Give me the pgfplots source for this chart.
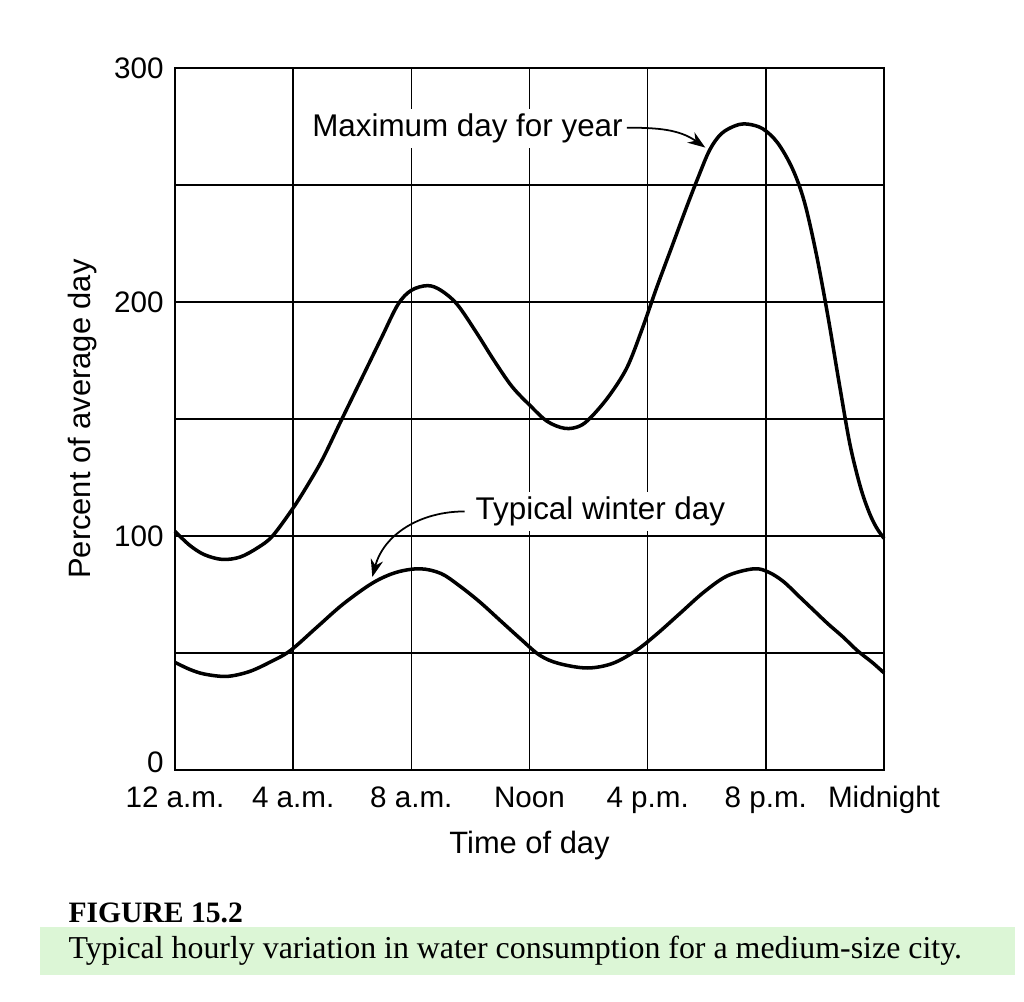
\documentclass[border=0pt]{standalone}
\usepackage{fontspec}
\setmainfont{Liberation Sans}
\newfontfamily\capfont{Liberation Serif}
\usepackage{pgfplots}
\pgfplotsset{compat=1.18}
\usetikzlibrary{arrows.meta}
\definecolor{hilite}{RGB}{220,246,214}

\begin{document}
\begin{tikzpicture}[x=1cm,y=1cm]
% page frame in axis-relative cm (1 px = 0.014 cm)
\useasboundingbox (-2.45,-3.234) rectangle (11.886,10.78);
\fill[hilite] (-1.89,-2.20) rectangle (11.76,-2.87);
\node[anchor=base west,inner sep=0pt,font=\capfont\fontsize{11.8}{13}\selectfont\bfseries] at (-1.498,-2.128) {FIGURE 15.2};
\node[anchor=base west,inner sep=0pt,font=\capfont\fontsize{12.7}{14}\selectfont] at (-1.498,-2.632) {Typical hourly variation in water consumption for a medium-size city.};

\begin{axis}[
  name=ax, at={(0,0)}, anchor=south west,
  scale only axis, width=9.926cm, height=9.828cm,
  xmin=0, xmax=24, ymin=0, ymax=300,
  xtick={0,4,8,12,16,20,24},
  xticklabels={12 a.m.,4 a.m.,8 a.m.,Noon,4 p.m.,8 p.m.,Midnight},
  ytick={0,100,200,300},
  yticklabels={\raisebox{6pt}{0},100,200,300},
  extra y ticks={50,150,250}, extra y tick labels={},
  extra y tick style={grid=major},
  grid=major, major grid style={black, line width=0.6pt},
  axis line style={black, line width=0.7pt},
  major tick length=0pt,
  tick label style={font=\fontsize{11.8}{13}\selectfont},
  /pgf/number format/assume math mode=true,
  xticklabel style={text height=1.6ex, text depth=0.3ex, yshift=-3pt},
  yticklabel style={xshift=-1pt},
  xlabel={Time of day}, ylabel={Percent of average day},
  label style={font=\fontsize{12.3}{14}\selectfont},
  xlabel style={yshift=-1pt},
  ylabel style={yshift=0pt},
  clip=false,
]
\addplot[black, line width=1.4pt, smooth, tension=0.55] coordinates {
  (0,102) (0.5,96) (1.0,92) (1.6,90) (2.2,91) (2.8,95) (3.3,100) (4.0,112)
  (4.5,122) (5.0,133) (5.65,150) (6.5,172) (7.0,185) (7.55,199) (8.0,205)
  (8.55,207) (9.0,205) (9.55,199) (10.2,187) (10.8,175) (11.4,164) (12.0,156)
  (12.6,149) (13.2,146) (13.7,147) (14.1,151) (14.7,160) (15.3,172) (15.8,188)
  (16.3,206) (16.8,223) (17.3,240) (17.7,253) (18.1,265) (18.5,272) (19.0,275.5)
  (19.4,276) (19.9,274) (20.4,268) (20.9,257) (21.3,243) (21.7,221) (22.1,194)
  (22.5,164) (22.85,139) (23.2,121) (23.5,110) (23.75,103.5) (24.0,99)
};
\addplot[black, line width=1.4pt, smooth, tension=0.55] coordinates {
  (0,46) (0.5,43) (1.0,41) (1.75,40) (2.5,42) (3.2,46) (3.9,51) (4.8,61)
  (5.7,71) (6.7,80) (7.5,84.5) (8.3,86) (9.0,84) (9.6,79) (10.3,72) (11.0,64)
  (11.7,56) (12.35,49) (13.0,45.5) (13.95,43.6) (14.8,45.5) (15.6,51) (16.3,58)
  (17.1,67) (17.9,76) (18.7,83) (19.6,86) (20.1,84.5) (20.6,80.5) (21.1,74.5)
  (21.6,68.5) (22.1,62.5) (22.6,57) (23.1,51) (23.6,46) (24,41.5)
};
\node[fill=white, inner sep=2pt, font=\fontsize{12.5}{14}\selectfont] at (9.9,274) {Maximum day for year};
\draw[line width=0.7pt, -{Stealth[length=7pt,width=5pt]}] (15.3,274.5) to[out=0, in=145] (17.95,266);
\node[fill=white, inner sep=2pt, font=\fontsize{12.5}{14}\selectfont] at (14.4,110.5) {Typical winter day};
\draw[line width=0.7pt, -{Stealth[length=7pt,width=5pt]}] (9.8,110.5) to[out=180, in=75] (6.68,82.5);
\end{axis}
\end{tikzpicture}
\end{document}
